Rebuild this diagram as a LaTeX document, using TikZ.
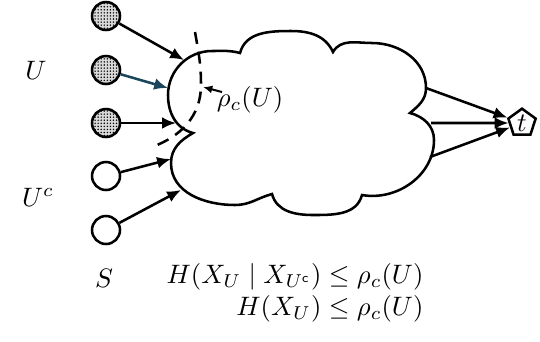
\documentclass[tikz,border=0pt]{standalone}
\usetikzlibrary{arrows.meta,shapes.geometric,patterns.meta}
\definecolor{teal1}{RGB}{25,70,90}
\begin{document}
\begin{tikzpicture}[x=0.375pt,y=-0.375pt,
  src/.style={circle,draw,line width=0.95pt,minimum size=10.5pt,inner sep=0pt},
  fsrc/.style={src,fill=gray!30,postaction={pattern={Dots[distance=1.15pt,radius=0.3pt]}}},
  arr/.style={line width=0.95pt,-{Latex[length=5.2pt,width=4.4pt]}},
  lab/.style={inner sep=0pt}]
\useasboundingbox (0,0) rectangle (540,341);
% sources
\node[fsrc] (s1) at (106,16) {};
\node[fsrc] (s2) at (106,70) {};
\node[fsrc] (s3) at (106,123) {};
\node[src] (s4) at (106,176) {};
\node[src] (s5) at (106,230) {};
% cloud
\draw[line width=0.95pt] (193,133)
  to[out=165,in=-90] (168,95)
  to[out=90,in=180] (212,51)
  to[out=0,in=165] (240,53)
  to[out=75,in=180] (291,31)
  to[out=0,in=115] (333,52)
  to[out=60,in=180] (372,43)
  to[out=0,in=90] (426,88)
  to[out=-90,in=40] (410,113)
  to[out=-15,in=90] (434,140)
  to[out=-90,in=-10] (362,195)
  to[out=-105,in=0] (313,215)
  to[out=180,in=-75] (272,194)
  to[out=195,in=0] (235,205)
  to[out=180,in=-90] (171,163)
  to[out=90,in=210] cycle;
% cloud attachment coordinates
\coordinate (c1) at (184,60);
\coordinate (c2) at (168,88);
\coordinate (c3) at (176,123);
\coordinate (c4) at (171,159);
\coordinate (c5) at (181,190);
\coordinate (o1) at (426,88);
\coordinate (o2) at (431,123);
\coordinate (o3) at (430,157);
% sink
\node[regular polygon,regular polygon sides=5,draw,line width=0.95pt,minimum size=10.5pt,inner sep=0pt] (t) at (522,123) {$t$};
% input arrows
\draw[arr] (s1) -- (c1);
\draw[arr,teal1] (s2) -- (c2);
\draw[arr] (s3) -- (c3);
\draw[arr] (s4) -- (c4);
\draw[arr] (s5) -- (c5);
% output arrows
\draw[arr] (o1) -- (t);
\draw[arr] (o2) -- (t);
\draw[arr] (o3) -- (t);
% dashed cut
\coordinate (d1) at (195,32);
\coordinate (d2) at (152,147);
\draw[line width=0.95pt,dash pattern=on 4.5pt off 3pt] (d1) to[out=-80,in=90] (201,85) to[out=-90,in=20] (d2);
% rho label
\node[lab] (rho) at (250,100) {$\rho_c(U)$};
\coordinate (rt) at (203,87);
\coordinate (rs) at (222,92);
\draw[line width=0.75pt,-{Latex[length=3.5pt,width=3pt]}] (rs) -- (rt);
% labels
\node[lab] (U) at (36,70) {$U$};
\node[lab] (Uc) at (38,197) {$U^c$};
\node[lab] (S) at (104,278) {$S$};
\node[lab,anchor=east] (e1) at (424,277) {$H(X_U\mid X_{U^{\mathsf{c}}})\le\rho_c(U)$};
\node[lab,anchor=east] (e2) at (424,309) {$H(X_U)\le\rho_c(U)$};
\end{tikzpicture}
\end{document}
